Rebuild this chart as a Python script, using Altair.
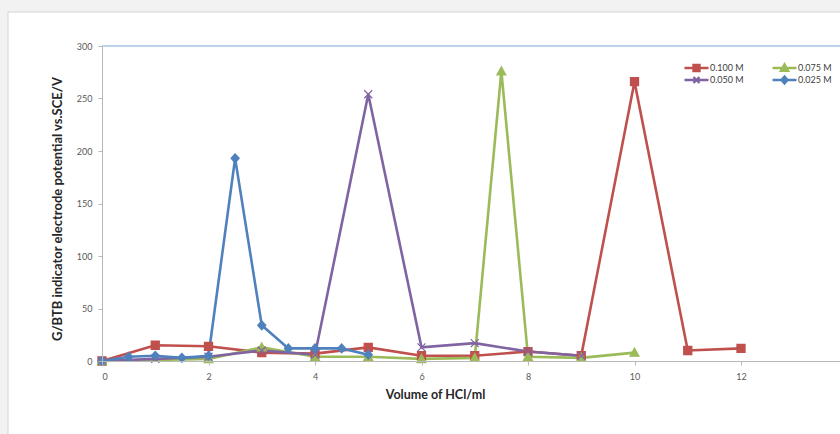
import altair as alt
import pandas as pd

# Titration series: volume of HCl (ml) vs indicator electrode potential
series_names = ["0.100 M", "0.075 M", "0.050 M", "0.025 M"]
series_colors = ["#C0504D", "#9BBB59", "#8064A2", "#4F81BD"]

vol_100 = [0, 1, 2, 3, 4, 5, 6, 7, 8, 9, 10, 11, 12]
pot_100 = [0, 15, 14, 8, 7, 13, 5, 5, 9, 5, 266, 10, 12]

vol_075 = [0, 2, 3, 4, 5, 6, 7, 7.5, 8, 9, 10]
pot_075 = [0, 2, 13, 4, 4, 2, 3, 276, 4, 3, 8]

vol_050 = [0, 1, 2, 3, 4, 5, 6, 7, 8, 9]
pot_050 = [0, 2, 4, 10, 6, 254, 13, 17, 9, 5]

vol_025 = [0, 0.5, 1, 1.5, 2, 2.5, 3, 3.5, 4, 4.5, 5]
pot_025 = [0, 4, 5, 3, 5, 193, 34, 12, 12, 12, 6]

x_ticks = [0, 2, 4, 6, 8, 10, 12]
y_ticks = [0, 50, 100, 150, 200, 250, 300]

rows = []
for name, xs, ys in [
    ("0.100 M", vol_100, pot_100),
    ("0.075 M", vol_075, pot_075),
    ("0.050 M", vol_050, pot_050),
    ("0.025 M", vol_025, pot_025),
]:
    for xv, yv in zip(xs, ys):
        rows.append({"series": name, "marker": name, "vol": xv, "pot": yv})
df = pd.DataFrame(rows)

W, H = 738, 315
FONT = "Lato"

# marker outlines (unit box), and the same markers with a line through them for the legend
marker_paths = [
    "M-1,-1H1V1H-1Z",
    "M0,-1.1L1.1,0.9H-1.1Z",
    "M-1,-1L1,1M-1,1L1,-1",
    "M0,-1.1L1,0L0,1.1L-1,0Z",
]
legend_paths = [
    "M-1,0H1M-0.25,-0.25H0.25V0.25H-0.25Z",
    "M-1,0H1M0,-0.3L0.3,0.23H-0.3Z",
    "M-1,0H1M-0.25,-0.25L0.25,0.25M-0.25,0.25L0.25,-0.25",
    "M-1,0H1M0,-0.28L0.25,0L0,0.28L-0.25,0Z",
]

x_enc = alt.X("vol:Q", scale=alt.Scale(domain=[0, W / 53.25], nice=False, zero=False),
              axis=alt.Axis(values=x_ticks, title="Volume of HCl/ml", grid=False, zindex=1,
                            titleX=333, titleY=33, titleAlign="center", titleFontSize=12.5,
                            titleBaseline="middle", format="d", labelPadding=7))
y_enc = alt.Y("pot:Q", scale=alt.Scale(domain=[0, 300], nice=False),
              axis=alt.Axis(values=y_ticks, grid=False, zindex=1,
                            title="G/BTB indicator electrode potential vs.SCE/V",
                            titleX=-45, titleY=H / 2 + 5, titleAngle=270, titleFontSize=13,
                            titleAlign="center", titleBaseline="middle", labelPadding=6))

panel = alt.Chart(pd.DataFrame({"k": [0]})).mark_rect(
    fill="white", stroke="#d4d4d4", strokeWidth=1
).encode(x=alt.value(-94), x2=alt.value(W + 20), y=alt.value(-34), y2=alt.value(H + 120))

top_border = alt.Chart(pd.DataFrame({"k": [0]})).mark_rule(
    color="#a8c3e6", strokeWidth=1.5
).encode(x=alt.value(0), x2=alt.value(W), y=alt.value(0))

lines = alt.Chart(df).mark_line(strokeWidth=2.6).encode(
    x=x_enc, y=y_enc,
    color=alt.Color("series:N", scale=alt.Scale(domain=series_names, range=series_colors), legend=None),
    detail="series:N",
    order="vol:Q",
)

points = alt.Chart(df).mark_point(size=64, strokeWidth=1.3, opacity=1).encode(
    x="vol:Q", y="pot:Q",
    shape=alt.Shape("marker:N", scale=alt.Scale(domain=series_names, range=marker_paths), legend=None),
    fill=alt.Fill("marker:N", scale=alt.Scale(domain=series_names, range=series_colors), legend=None),
    stroke=alt.Stroke("marker:N", scale=alt.Scale(domain=series_names, range=series_colors), legend=None),
)

legend_cfg = alt.Legend(
    title=None, orient="none", legendX=581, legendY=16, columns=2,
    direction="horizontal", clipHeight=12, rowPadding=0, columnPadding=27,
    symbolSize=576, symbolStrokeWidth=2.4, symbolOpacity=1, labelOffset=0, padding=0,
    labelFont=FONT, labelFontSize=9, labelColor="#404040",
)
key = alt.Chart(df).transform_filter("false").mark_point(size=576, strokeWidth=2.4, opacity=1).encode(
    x="vol:Q", y="pot:Q",
    shape=alt.Shape("series:N", scale=alt.Scale(domain=series_names, range=legend_paths), legend=legend_cfg),
    fill=alt.Fill("series:N", scale=alt.Scale(domain=series_names, range=series_colors), legend=legend_cfg),
    stroke=alt.Stroke("series:N", scale=alt.Scale(domain=series_names, range=series_colors), legend=legend_cfg),
)

chart = alt.layer(panel, top_border, lines, points, key).resolve_scale(
    shape="independent", fill="independent", stroke="independent"
).resolve_legend(shape="independent", fill="independent", stroke="independent").properties(
    width=W, height=H, background="#f2f2f2",
    padding={"left": 102, "top": 46, "right": 0, "bottom": 73},
    autosize=alt.AutoSizeParams(type="none"),
).configure_view(stroke=None).configure_axis(
    labelFont=FONT, labelFontSize=9, labelColor="#595959",
    titleFont=FONT, titleFontWeight="bold", titleColor="#262626",
    domainColor="#b8b8b8", tickColor="#b8b8b8", tickSize=4,
)

chart.save("out.html", embed_options={"renderer": "svg", "actions": False})
